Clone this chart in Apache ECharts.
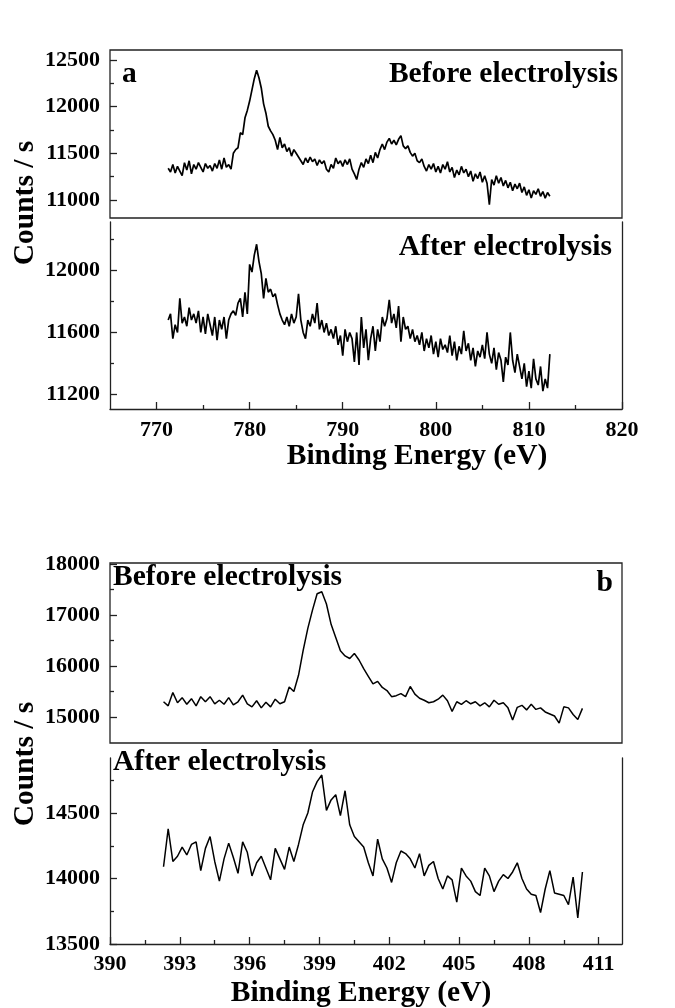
<!DOCTYPE html>
<html>
<head>
<meta charset="utf-8">
<script src="https://cdn.jsdelivr.net/npm/echarts@6/dist/echarts.min.js"></script>
<style>
html,body{margin:0;padding:0;background:#fff;}
#chart{width:675px;height:1008px;}
</style>
</head>
<body>
<div id="chart"></div>
<script>
// ---------- Panel a (Binding energy 765-820 eV) ----------
const energyA = [
  771.25, 771.5, 771.75,
  772, 772.25, 772.5, 772.75,
  773, 773.25, 773.5, 773.75,
  774, 774.25, 774.5, 774.75,
  775, 775.25, 775.5, 775.75,
  776, 776.25, 776.5, 776.75,
  777, 777.25, 777.5, 777.75,
  778, 778.25, 778.5, 778.75,
  779, 779.25, 779.5, 779.75,
  780, 780.25, 780.5, 780.75,
  781, 781.25, 781.5, 781.75,
  782, 782.25, 782.5, 782.75,
  783, 783.25, 783.5, 783.75,
  784, 784.25, 784.5, 784.75,
  785, 785.25, 785.5, 785.75,
  786, 786.25, 786.5, 786.75,
  787, 787.25, 787.5, 787.75,
  788, 788.25, 788.5, 788.75,
  789, 789.25, 789.5, 789.75,
  790, 790.25, 790.5, 790.75,
  791, 791.25, 791.5, 791.75,
  792, 792.25, 792.5, 792.75,
  793, 793.25, 793.5, 793.75,
  794, 794.25, 794.5, 794.75,
  795, 795.25, 795.5, 795.75,
  796, 796.25, 796.5, 796.75,
  797, 797.25, 797.5, 797.75,
  798, 798.25, 798.5, 798.75,
  799, 799.25, 799.5, 799.75,
  800, 800.25, 800.5, 800.75,
  801, 801.25, 801.5, 801.75,
  802, 802.25, 802.5, 802.75,
  803, 803.25, 803.5, 803.75,
  804, 804.25, 804.5, 804.75,
  805, 805.25, 805.5, 805.75,
  806, 806.25, 806.5, 806.75,
  807, 807.25, 807.5, 807.75,
  808, 808.25, 808.5, 808.75,
  809, 809.25, 809.5, 809.75,
  810, 810.25, 810.5, 810.75,
  811, 811.25, 811.5, 811.75,
  812, 812.25
];
const countsBeforeA = [
  11340, 11300, 11380,
  11290, 11360, 11310, 11260,
  11400, 11320, 11420, 11280,
  11380, 11330, 11400, 11350,
  11300, 11390, 11340, 11370,
  11310, 11390, 11340, 11430,
  11330, 11450, 11350, 11380,
  11330, 11500, 11540, 11560,
  11720, 11700, 11880, 11960,
  12060, 12180, 12300, 12390,
  12310, 12200, 12030, 11930,
  11790, 11740, 11700, 11640,
  11540, 11670, 11560, 11600,
  11520, 11560, 11470, 11540,
  11500, 11460, 11420, 11380,
  11450, 11400, 11460, 11410,
  11440, 11370, 11430, 11390,
  11420, 11330, 11300, 11380,
  11340, 11450, 11390, 11420,
  11360, 11430, 11380, 11440,
  11330, 11280, 11220, 11330,
  11400, 11350, 11440, 11390,
  11480, 11400, 11510, 11450,
  11540, 11600, 11540, 11620,
  11660, 11600, 11640, 11590,
  11650, 11690, 11580, 11550,
  11580, 11510, 11470, 11500,
  11420, 11400, 11440, 11360,
  11310, 11380, 11330, 11390,
  11300, 11360, 11290, 11380,
  11330, 11410, 11300, 11350,
  11240, 11320, 11270, 11360,
  11290, 11330, 11250, 11310,
  11200, 11280, 11230, 11300,
  11190, 11260, 11180, 10950,
  11220, 11160, 11260, 11180,
  11240, 11150, 11210, 11130,
  11190, 11100, 11170, 11120,
  11180, 11080, 11140, 11050,
  11110, 11020, 11100, 11060,
  11120, 11040, 11090, 11020,
  11080, 11040
];
const countsAfterA = [
  11680, 11720, 11560,
  11650, 11600, 11820, 11660,
  11700, 11640, 11760, 11680,
  11720, 11660, 11740, 11600,
  11700, 11590, 11720, 11650,
  11580, 11700, 11550, 11680,
  11620, 11700, 11560, 11680,
  11720, 11740, 11710, 11790,
  11820, 11700, 11860, 11720,
  12040, 11990, 12100, 12170,
  12060, 11980, 11820, 11950,
  11860, 11880, 11830, 11850,
  11780, 11720, 11680, 11650,
  11700, 11640, 11720, 11660,
  11700, 11850, 11680, 11600,
  11560, 11680, 11640, 11720,
  11660, 11790, 11620, 11680,
  11600, 11660, 11580, 11620,
  11560, 11640, 11520, 11580,
  11450, 11620, 11540, 11600,
  11560, 11410, 11600, 11390,
  11700, 11500, 11620, 11420,
  11560, 11640, 11480, 11620,
  11540, 11700, 11640, 11690,
  11810, 11660, 11720, 11630,
  11770, 11540, 11700, 11620,
  11640, 11560, 11620, 11540,
  11580, 11520, 11600, 11480,
  11560, 11500, 11580, 11460,
  11540, 11440, 11560, 11490,
  11520, 11470, 11580, 11450,
  11540, 11420, 11510, 11460,
  11610, 11480, 11530, 11420,
  11500, 11380, 11480, 11440,
  11520, 11430, 11600, 11460,
  11400, 11500, 11360, 11470,
  11420, 11280, 11440, 11390,
  11600, 11420, 11340, 11460,
  11380, 11300, 11400, 11250,
  11350, 11240, 11430, 11300,
  11260, 11380, 11220, 11300,
  11240, 11460
];

// ---------- Panel b (Binding energy 390-412 eV) ----------
const energyB = [
  392.3, 392.5, 392.7, 392.9, 393.1,
  393.3, 393.5, 393.7, 393.9, 394.1,
  394.3, 394.5, 394.7, 394.9, 395.1,
  395.3, 395.5, 395.7, 395.9, 396.1,
  396.3, 396.5, 396.7, 396.9, 397.1,
  397.3, 397.5, 397.7, 397.9, 398.1,
  398.3, 398.5, 398.7, 398.9, 399.1,
  399.3, 399.5, 399.7, 399.9, 400.1,
  400.3, 400.5, 400.7, 400.9, 401.1,
  401.3, 401.5, 401.7, 401.9, 402.1,
  402.3, 402.5, 402.7, 402.9, 403.1,
  403.3, 403.5, 403.7, 403.9, 404.1,
  404.3, 404.5, 404.7, 404.9, 405.1,
  405.3, 405.5, 405.7, 405.9, 406.1,
  406.3, 406.5, 406.7, 406.9, 407.1,
  407.3, 407.5, 407.7, 407.9, 408.1,
  408.3, 408.5, 408.7, 408.9, 409.1,
  409.3, 409.5, 409.7, 409.9, 410.1,
  410.3
];
const countsBeforeB = [
  15300, 15220, 15480, 15280, 15380,
  15250, 15360, 15220, 15400, 15300,
  15400, 15260, 15330, 15250, 15380,
  15240, 15300, 15430, 15260, 15200,
  15320, 15180, 15290, 15200, 15350,
  15260, 15300, 15590, 15500, 15820,
  16310, 16740, 17100, 17420, 17460,
  17220, 16820, 16560, 16300, 16200,
  16150, 16250, 16120, 15950, 15800,
  15650, 15700, 15580, 15520, 15400,
  15420, 15460, 15400, 15600, 15450,
  15370, 15330, 15280, 15300, 15350,
  15430, 15320, 15110, 15300, 15250,
  15320, 15260, 15300, 15220, 15280,
  15200, 15330, 15250, 15280, 15180,
  14940, 15190, 15230, 15140, 15250,
  15150, 15180, 15100, 15060, 15020,
  14880, 15200, 15180, 15050, 14950,
  15170
];
const countsAfterB = [
  14090, 14380, 14130, 14170, 14240,
  14180, 14260, 14280, 14060, 14230,
  14320, 14130, 13980, 14150, 14270,
  14160, 14040, 14280, 14200, 14020,
  14120, 14170, 14080, 13990, 14230,
  14150, 14070, 14240, 14130, 14260,
  14410, 14500, 14660, 14740, 14790,
  14520, 14600, 14640, 14480, 14670,
  14410, 14320, 14280, 14240, 14120,
  14020, 14300, 14150, 14080, 13970,
  14120, 14210, 14190, 14150, 14080,
  14190, 14020, 14100, 14130, 14000,
  13920, 14020, 13990, 13820, 14080,
  14020, 13980, 13900, 13870, 14080,
  14020, 13900, 13980, 14030, 14000,
  14050, 14120, 14000, 13920, 13880,
  13870, 13740, 13920, 14060, 13890,
  13880, 13870, 13800, 14010, 13700,
  14050
];

// tick labels
const xTicksA = [770, 780, 790, 800, 810, 820];
const xMinorA = [775, 785, 795, 805, 815];
const yTicksA1 = [11000, 11500, 12000, 12500];
const yMinorA1 = [11250, 11750, 12250];
const yTicksA2 = [11200, 11600, 12000];
const yMinorA2 = [11400, 11800, 12200];
const xTicksB = [390, 393, 396, 399, 402, 405, 408, 411];
const xMinorB = [391.5, 394.5, 397.5, 400.5, 403.5, 406.5, 409.5];
const yTicksB1 = [15000, 16000, 17000, 18000];
const yMinorB1 = [15500, 16500, 17500];
const yTicksB2 = [13500, 14000, 14500];
const yMinorB2 = [13750, 14250, 14750];

const FONT = 'Liberation Serif';
const LINE = '#222';

function zip(xs, ys) { return xs.map((x, i) => [x, ys[i]]); }
function plain(v) { return String(v); }

function yAx(grid, min, max, ticks, opts) {
  opts = opts || {};
  return {
    type: 'value', gridIndex: grid, min: min, max: max,
    position: opts.position || 'left',
    axisLine: { show: !!opts.line, onZero: false, lineStyle: { color: LINE, width: 1.3 } },
    axisTick: { show: !!ticks, inside: true, length: opts.len || 7, customValues: ticks || [], lineStyle: { color: LINE, width: 1.3 } },
    axisLabel: opts.labels ? { show: true, customValues: ticks, formatter: plain, margin: 10, color: '#000', fontSize: 22, fontWeight: 'bold', fontFamily: FONT } : { show: false },
    splitLine: { show: false }
  };
}
function xAx(grid, min, max, ticks, opts) {
  opts = opts || {};
  return {
    type: 'value', gridIndex: grid, min: min, max: max, show: opts.show !== false,
    position: 'bottom',
    axisLine: { show: !!opts.line, onZero: false, lineStyle: { color: LINE, width: 1.3 } },
    axisTick: { show: !!ticks, inside: true, length: opts.len || 7, customValues: ticks || [], lineStyle: { color: LINE, width: 1.3 } },
    axisLabel: opts.labels ? { show: true, customValues: ticks, formatter: plain, margin: opts.margin || 9, color: '#000', fontSize: 22, fontWeight: 'bold', fontFamily: FONT } : { show: false },
    splitLine: { show: false }
  };
}
function txt(text, x, y, align, rot) {
  return {
    type: 'text', x: x, y: y, rotation: rot || 0, silent: true,
    style: { text: text, fontSize: 29.5, fontWeight: 'bold', fontFamily: FONT, fill: '#000', textAlign: align, textVerticalAlign: 'middle' }
  };
}
function lineSeries(xi, yi, data, w) {
  return { type: 'line', xAxisIndex: xi, yAxisIndex: yi, data: data, showSymbol: false, symbol: 'none',
    lineStyle: { color: '#000', width: w }, animation: false, silent: true, z: 3 };
}

const chart = echarts.init(document.getElementById('chart'), null, { renderer: 'canvas' });
const option = {
  backgroundColor: '#fff',
  animation: false,
  grid: [
    { left: 110, top: 50, width: 512, height: 168, show: true, borderColor: LINE, borderWidth: 1.3, backgroundColor: 'transparent' },
    { left: 110, top: 222, width: 512, height: 187 },
    { left: 110, top: 563, width: 512, height: 180, show: true, borderColor: LINE, borderWidth: 1.3, backgroundColor: 'transparent' },
    { left: 110, top: 758, width: 512, height: 186 }
  ],
  xAxis: [
    xAx(0, 765, 820, null, { show: false }),
    xAx(1, 765, 820, xTicksA, { line: true, labels: true, margin: 10 }),
    xAx(1, 765, 820, xMinorA, { len: 4 }),
    xAx(2, 390, 412, null, { show: false }),
    xAx(3, 390, 412, xTicksB, { line: true, labels: true, margin: 9 }),
    xAx(3, 390, 412, xMinorB, { len: 4 })
  ],
  yAxis: [
    yAx(0, 10807, 12607, yTicksA1, { labels: true }),
    yAx(0, 10807, 12607, yMinorA1, { len: 4 }),
    yAx(1, 11105, 12314, yTicksA2, { labels: true, line: true }),
    yAx(1, 11105, 12314, yMinorA2, { len: 4 }),
    yAx(1, 11105, 12314, null, { line: true, position: 'right' }),
    yAx(2, 14490, 18025, yTicksB1, { labels: true }),
    yAx(2, 14490, 18025, yMinorB1, { len: 4 }),
    yAx(3, 13500, 14920, yTicksB2, { labels: true, line: true }),
    yAx(3, 13500, 14920, yMinorB2, { len: 4 }),
    yAx(3, 13500, 14920, null, { line: true, position: 'right' })
  ],
  series: [
    lineSeries(0, 0, zip(energyA, countsBeforeA), 1.7),
    lineSeries(1, 2, zip(energyA, countsAfterA), 1.7),
    lineSeries(3, 5, zip(energyB, countsBeforeB), 1.5),
    lineSeries(4, 7, zip(energyB, countsAfterB), 1.5)
  ],
  graphic: [
    txt('a', 122, 74, 'left'),
    txt('Before electrolysis', 618, 74, 'right'),
    txt('After electrolysis', 612, 247, 'right'),
    txt('Binding Energy (eV)', 417, 456, 'center'),
    txt('Counts / s', 25, 203, 'center', Math.PI / 2),
    txt('Before electrolysis', 113, 577, 'left'),
    txt('b', 613, 583, 'right'),
    txt('After electrolysis', 113, 762, 'left'),
    txt('Binding Energy (eV)', 361, 993, 'center'),
    txt('Counts / s', 25, 764, 'center', Math.PI / 2)
  ]
};
chart.setOption(option);
</script>
</body>
</html>
